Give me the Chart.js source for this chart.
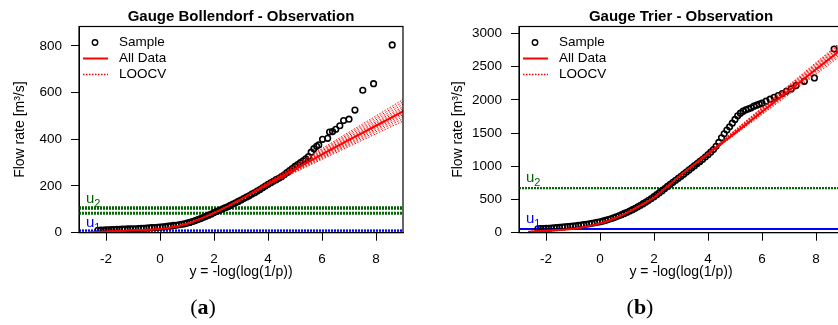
<!DOCTYPE html>
<html>
<head>
<meta charset="utf-8">
<script src="https://cdn.jsdelivr.net/npm/chart.js@4.4.1/dist/chart.umd.min.js"></script>
<style>
html, body { margin: 0; padding: 0; background: #fff; width: 838px; height: 325px; overflow: hidden; }
#wrap { position: relative; width: 838px; height: 325px; overflow: hidden; }
#bollendorf { position: absolute; left: 0; top: 0; }
#trier { position: absolute; left: 420px; top: 0; }
</style>
</head>
<body>
<div id="wrap">
  <canvas id="bollendorf" width="420" height="325"></canvas>
  <canvas id="trier" width="440" height="325"></canvas>
</div>
<script>
// reduced variate y = -log(log(1/p)) and flow rate [m3/s]
const xTicks = [-2, 0, 2, 4, 6, 8];
const bolYTicks = [0, 200, 400, 600, 800];
const trierYTicks = [0, 500, 1000, 1500, 2000, 2500, 3000];

const bolSampleX = [
  -2.3, -2.2, -2.1, -2.0, -1.9, -1.8, -1.7, -1.6, -1.5, -1.4,
  -1.3, -1.2, -1.1, -1.0, -0.9, -0.8, -0.7, -0.6, -0.5, -0.4,
  -0.3, -0.2, -0.1, 0.0, 0.1, 0.2, 0.3, 0.4, 0.5, 0.6,
  0.7, 0.8, 0.9, 1.0, 1.1, 1.2, 1.3, 1.4, 1.5, 1.6,
  1.7, 1.8, 1.9, 2.0, 2.1, 2.2, 2.3, 2.4, 2.5, 2.6,
  2.7, 2.8, 2.9, 3.0, 3.1, 3.2, 3.3, 3.4, 3.5, 3.6,
  3.7, 3.8, 3.9, 4.0, 4.1, 4.2, 4.3, 4.4, 4.5, 4.6,
  4.7, 4.8, 4.9, 5.0, 5.1, 5.2, 5.3, 5.4, 5.5, 5.6,
  5.7, 5.8, 5.88, 6.02, 6.21, 6.28, 6.39, 6.51, 6.66, 6.80,
  7.00, 7.22, 7.51, 7.91, 8.60
];
const bolSampleY = [
  10, 11, 11, 12, 12, 13, 13, 14, 14, 15,
  15, 16, 16, 17, 17, 18, 19, 19, 20, 21,
  22, 22, 23, 24, 25, 26, 28, 29, 31, 32,
  34, 36, 38, 41, 44, 48, 52, 56, 60, 65,
  70, 75, 80, 86, 91, 96, 101, 106, 111, 117,
  123, 128, 134, 140, 146, 152, 158, 165, 171, 178,
  185, 192, 200, 207, 214, 220, 227, 233, 240, 248,
  257, 266, 275, 284, 292, 300, 308, 316, 326, 345,
  360, 370, 376, 400, 404, 431, 433, 443, 458, 480,
  486, 525, 610, 638, 804
];

const trierSampleX = [
  -2.3, -2.2, -2.1, -2.0, -1.9, -1.8, -1.7, -1.6, -1.5, -1.4,
  -1.3, -1.2, -1.1, -1.0, -0.9, -0.8, -0.7, -0.6, -0.5, -0.4,
  -0.3, -0.2, -0.1, 0.0, 0.1, 0.2, 0.3, 0.4, 0.5, 0.6,
  0.7, 0.8, 0.9, 1.0, 1.1, 1.2, 1.3, 1.4, 1.5, 1.6,
  1.7, 1.8, 1.9, 2.0, 2.1, 2.2, 2.3, 2.4, 2.5, 2.6,
  2.7, 2.8, 2.9, 3.0, 3.1, 3.2, 3.3, 3.4, 3.5, 3.6,
  3.7, 3.8, 3.9, 4.0, 4.1, 4.2, 4.3, 4.4, 4.5, 4.6,
  4.7, 4.8, 4.9, 5.0, 5.1, 5.2, 5.3, 5.4, 5.5, 5.6,
  5.7, 5.8, 5.9, 6.0, 6.15, 6.3, 6.45, 6.6, 6.75, 6.9,
  7.08, 7.26, 7.57, 7.94, 8.67
];
const trierSampleY = [
  58, 60, 62, 64, 67, 70, 73, 76, 80, 84,
  88, 92, 96, 100, 105, 110, 115, 121, 127, 134,
  141, 148, 156, 164, 174, 185, 197, 210, 224, 239,
  255, 272, 290, 308, 327, 347, 368, 390, 413, 437,
  462, 488, 515, 543, 572, 602, 633, 665, 697, 728,
  759, 790, 820, 850, 882, 914, 946, 978, 1010, 1042,
  1074, 1106, 1140, 1175, 1212, 1252, 1300, 1360, 1430, 1490,
  1545, 1595, 1650, 1705, 1760, 1800, 1830, 1850, 1865, 1880,
  1905, 1920, 1935, 1950, 1980, 2010, 2040, 2065, 2095, 2130,
  2165, 2215, 2280, 2330, 2765
];

// fitted curve with all data
const fitX = [-2.65, -2, -1, 0, 0.5, 1, 1.5, 2, 2.5, 3, 3.5, 4, 5, 6, 7, 8, 9];
const bolFit = [2, 5, 10, 16, 24, 38, 60, 85, 113, 143, 175, 208, 272, 335, 397, 458, 520];
const trierFit = [15, 30, 60, 140, 210, 300, 410, 530, 700, 870, 1030, 1185, 1500, 1820, 2140, 2460, 2780];

// leave-one-out fits
const loocvX = [-2.65, -1, 0, 1, 2, 3, 4, 6, 9];
const bolLoocv = [
  [3, 10, 16, 37, 84, 142, 202, 314, 478],
  [2, 10, 17, 38, 85, 142, 204, 319, 488],
  [2, 11, 16, 38, 85, 143, 205, 323, 497],
  [3, 10, 16, 39, 86, 143, 207, 327, 505],
  [2, 10, 17, 38, 85, 143, 208, 331, 512],
  [2, 9, 16, 38, 84, 144, 210, 337, 525],
  [3, 10, 15, 37, 85, 144, 211, 341, 532],
  [2, 10, 16, 38, 86, 144, 212, 345, 540],
  [2, 11, 17, 39, 85, 145, 214, 350, 550],
  [3, 10, 16, 38, 85, 145, 216, 355, 560],
  [2, 10, 16, 38, 86, 146, 217, 360, 570]
];
const trierLoocv = [
  [14, 58, 138, 298, 528, 866, 1173, 1780, 2690],
  [15, 60, 140, 300, 530, 868, 1178, 1795, 2720],
  [16, 61, 141, 301, 531, 869, 1183, 1808, 2745],
  [15, 59, 139, 299, 529, 870, 1186, 1818, 2765],
  [14, 60, 140, 300, 530, 871, 1192, 1835, 2800],
  [15, 61, 141, 301, 532, 872, 1195, 1845, 2820],
  [16, 60, 140, 300, 531, 873, 1198, 1855, 2840],
  [15, 59, 139, 299, 530, 874, 1202, 1865, 2860],
  [14, 60, 141, 302, 532, 875, 1205, 1875, 2880],
  [15, 61, 140, 301, 531, 876, 1208, 1885, 2900]
];

// thresholds u1 and u2
const bolU1 = [7, 9, 11];
const bolU2 = [80, 84, 87, 101, 104, 107, 110];
const trierU1 = 55;
const trierU2 = [664, 668, 672, 676];

const FONT = '"Liberation Sans", Arial, sans-serif';
const SERIF = '"Liberation Serif", "DejaVu Serif", serif';
const RED = '#ff0000';
const GREEN = '#006400';
const BLUE = '#0000ff';
Chart.defaults.font.family = FONT;
Chart.defaults.color = '#000';

function pairs(xs, ys) {
  return xs.map((x, i) => ({ x: x, y: ys[i] }));
}

function hline(v, color, dash, width) {
  return {
    data: [{ x: -3, y: v }, { x: 9, y: v }],
    showLine: true, borderColor: color, borderWidth: width, borderDash: dash,
    pointRadius: 0, order: 3
  };
}

function drawU(ctx, x, base, sub, color) {
  ctx.fillStyle = color;
  ctx.textAlign = 'left';
  ctx.textBaseline = 'alphabetic';
  ctx.font = '15px ' + FONT;
  ctx.fillText('u', x, base);
  const w = ctx.measureText('u').width;
  ctx.font = '11px ' + FONT;
  ctx.fillText(sub, x + w, base + 4);
}

function panelDecor(o) {
  return {
    id: 'panelDecor',
    afterDraw(chart) {
      const { ctx, chartArea: a, scales: { y } } = chart;
      ctx.save();
      ctx.strokeStyle = '#000';
      ctx.lineWidth = 1.2;
      ctx.strokeRect(a.left, a.top, a.right - a.left, a.bottom - a.top);

      ctx.fillStyle = '#000';
      ctx.font = 'bold 15px ' + FONT;
      ctx.textAlign = 'center';
      ctx.textBaseline = 'middle';
      ctx.fillText(o.title, (a.left + a.right) / 2, 17);

      drawU(ctx, a.left + 7, y.getPixelForValue(o.u2At) - o.uGap, '2', GREEN);
      drawU(ctx, a.left + 7, y.getPixelForValue(o.u1At) - o.uGap, '1', BLUE);

      // legend
      const lx = a.left, ly = a.top;
      ctx.strokeStyle = '#000';
      ctx.lineWidth = 1.4;
      ctx.beginPath();
      ctx.arc(lx + 16, ly + 16, 2.7, 0, Math.PI * 2);
      ctx.stroke();
      ctx.strokeStyle = RED;
      ctx.lineWidth = 2;
      ctx.beginPath();
      ctx.moveTo(lx + 4, ly + 32); ctx.lineTo(lx + 29, ly + 32);
      ctx.stroke();
      ctx.lineWidth = 1.5;
      ctx.setLineDash([1.5, 1.5]);
      ctx.beginPath();
      ctx.moveTo(lx + 4, ly + 48); ctx.lineTo(lx + 29, ly + 48);
      ctx.stroke();
      ctx.setLineDash([]);
      ctx.fillStyle = '#000';
      ctx.font = '13.5px ' + FONT;
      ctx.textAlign = 'left';
      ctx.textBaseline = 'middle';
      ctx.fillText('Sample', lx + 40, ly + 16);
      ctx.fillText('All Data', lx + 40, ly + 32);
      ctx.fillText('LOOCV', lx + 40, ly + 48);

      // panel letter, e.g. (a)
      ctx.textBaseline = 'alphabetic';
      ctx.font = '22px ' + SERIF;
      const wp = ctx.measureText('(').width;
      ctx.font = 'bold 22px ' + SERIF;
      const wl = ctx.measureText(o.letter).width;
      let px = o.letterX - (2 * wp + wl) / 2;
      ctx.font = '22px ' + SERIF;
      ctx.fillText('(', px, 314);
      ctx.font = 'bold 22px ' + SERIF;
      ctx.fillText(o.letter, px + wp, 314);
      ctx.font = '22px ' + SERIF;
      ctx.fillText(')', px + wp + wl, 314);
      ctx.restore();
    }
  };
}

function makePanel(id, o) {
  const datasets = [];
  datasets.push({
    data: pairs(fitX, o.fit), showLine: true, borderColor: RED, borderWidth: 2,
    pointRadius: 0, tension: 0.3, order: 0
  });
  o.loocv.forEach(line => datasets.push({
    data: pairs(loocvX, line), showLine: true, borderColor: RED, borderWidth: 1,
    borderDash: [1.5, 1.5], pointRadius: 0, cubicInterpolationMode: 'monotone', order: 1
  }));
  datasets.push({
    data: pairs(o.sampleX, o.sampleY), pointRadius: 2.8, pointBorderWidth: 1.6,
    pointBorderColor: '#000', pointBackgroundColor: 'rgba(0,0,0,0)', order: 2
  });
  o.lines.forEach(l => datasets.push(l));

  return new Chart(document.getElementById(id), {
    type: 'scatter',
    data: { datasets: datasets },
    options: {
      responsive: false,
      animation: false,
      events: [],
      layout: { padding: { top: 26.5, right: o.padRight, left: 0, bottom: 0 } },
      plugins: { legend: { display: false }, tooltip: { enabled: false } },
      scales: {
        x: {
          type: 'linear', min: -3, max: 9,
          afterBuildTicks: s => { s.ticks = xTicks.map(v => ({ value: v })); },
          afterFit: s => { s.height = 92.3; },
          ticks: { font: { size: 13.5 }, color: '#000', padding: 10, callback: v => String(v) },
          grid: { drawOnChartArea: false, tickLength: 8, color: '#000' },
          border: { display: true, color: '#000' },
          title: { display: true, text: 'y = -log(log(1/p))', font: { size: 14 }, color: '#000', padding: { bottom: 44.9 } }
        },
        y: {
          type: 'linear', min: 0, max: o.yMax,
          afterBuildTicks: s => { s.ticks = o.yTicks.map(v => ({ value: v })); },
          afterFit: s => { s.width = o.yWidth; },
          ticks: { font: { size: 13.5 }, color: '#000', padding: 9, callback: v => String(v) },
          grid: { drawOnChartArea: false, tickLength: 8, color: '#000' },
          border: { display: true, color: '#000' },
          title: { display: true, text: 'Flow rate [m³/s]', font: { size: 14 }, color: '#000', padding: { top: o.yTitlePad } }
        }
      }
    },
    plugins: [panelDecor(o)]
  });
}

makePanel('bollendorf', {
  title: 'Gauge Bollendorf - Observation', letter: 'a', letterX: 203,
  fit: bolFit, loocv: bolLoocv, sampleX: bolSampleX, sampleY: bolSampleY,
  lines: [
    ...bolU2.map(v => hline(v, GREEN, [2, 1], 1.5)),
    ...bolU1.map(v => hline(v, BLUE, [2, 1], 1.5))
  ],
  yMax: 883, yTicks: bolYTicks, yWidth: 79, yTitlePad: 11.6, padRight: 17,
  u1At: 9, u2At: 110, uGap: 4
});

makePanel('trier', {
  title: 'Gauge Trier - Observation', letter: 'b', letterX: 220,
  fit: trierFit, loocv: trierLoocv, sampleX: trierSampleX, sampleY: trierSampleY,
  lines: [
    ...trierU2.map(v => hline(v, GREEN, [2, 1], 1.5)),
    hline(trierU1, BLUE, [], 2)
  ],
  yMax: 3105, yTicks: trierYTicks, yWidth: 99, yTitlePad: 29.6, padRight: 17,
  u1At: trierU1, u2At: 672, uGap: 6
});
</script>
</body>
</html>
